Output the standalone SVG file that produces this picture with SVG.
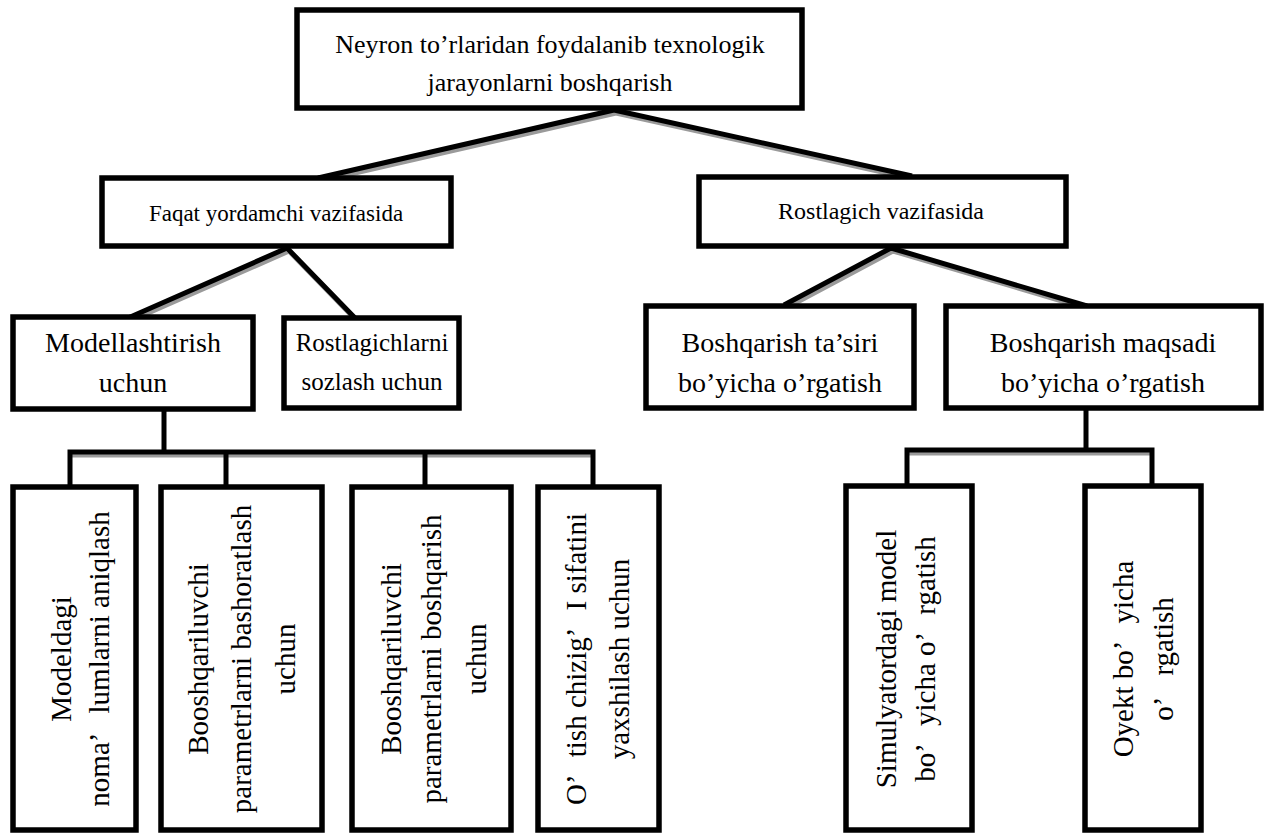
<svg xmlns="http://www.w3.org/2000/svg" width="1271" height="834" viewBox="0 0 1271 834">
  <style>
    .box { fill: #ffffff; stroke: #000000; stroke-width: 5.5; }
    .lbl { font-family: "Liberation Serif", "Times New Roman", serif; fill: #000000; text-anchor: middle; }
    .t1 { font-size: 26px; }
    .t2a { font-size: 23px; }
    .t2b { font-size: 24px; }
    .t3 { font-size: 28px; }
    .t3s { font-size: 25px; }
    .t4 { font-size: 29px; }
    .wire { fill: none; stroke: #000000; stroke-width: 5; stroke-linecap: butt; stroke-linejoin: miter; }
    .shade { fill: none; stroke: #9a9a9a; stroke-width: 5; }
  </style>

  <!-- connectors: grey shade first, black line on top -->
  <g id="connectors">
    <g class="shade" transform="translate(2,3)">
      <path d="M614,110 L318,178 M614,110 L912,176"/>
      <path d="M287,248 L128,318 M287,248 L355,318"/>
      <path d="M891,248 L784,305 M891,248 L1087,306"/>
      <path d="M70,452 L593,452"/>
      <path d="M907,450 L1152,450"/>
    </g>
    <path class="wire" d="M614,110 L318,178 M614,110 L912,176"/>
    <path class="wire" d="M287,248 L128,318 M287,248 L355,318"/>
    <path class="wire" d="M891,248 L784,305 M891,248 L1087,306"/>
    <path class="wire" d="M164,409 L164,452 M70,487 L70,452 L593,452 L593,487 M226,452 L226,487 M425,452 L425,487"/>
    <path class="wire" d="M1086,408 L1086,450 M907,487 L907,450 L1152,450 L1152,487"/>
  </g>

  <g id="root">
    <rect class="box" x="297" y="10" width="505" height="98"/>
    <text class="lbl t1" x="550" y="53">Neyron to’rlaridan foydalanib texnologik</text>
    <text class="lbl t1" x="550" y="91">jarayonlarni boshqarish</text>
  </g>

  <g id="yordamchi">
    <rect class="box" x="102" y="178" width="349" height="68"/>
    <text class="lbl t2a" x="276" y="221">Faqat yordamchi vazifasida</text>
  </g>

  <g id="rostlagich">
    <rect class="box" x="699" y="177" width="367" height="69"/>
    <text class="lbl t2b" x="881" y="219">Rostlagich vazifasida</text>
  </g>

  <g id="modellashtirish">
    <rect class="box" x="13" y="317" width="240" height="92"/>
    <text class="lbl t3" x="133" y="352">Modellashtirish</text>
    <text class="lbl t3" x="133" y="392">uchun</text>
  </g>

  <g id="sozlash">
    <rect class="box" x="284" y="318" width="175" height="90"/>
    <text class="lbl t3s" x="372" y="351">Rostlagichlarni</text>
    <text class="lbl t3s" x="372" y="390">sozlash uchun</text>
  </g>

  <g id="tasir">
    <rect class="box" x="646" y="306" width="268" height="102"/>
    <text class="lbl t3" x="780" y="352">Boshqarish ta’siri</text>
    <text class="lbl t3" x="780" y="392">bo’yicha o’rgatish</text>
  </g>

  <g id="maqsad">
    <rect class="box" x="946" y="306" width="315" height="102"/>
    <text class="lbl t3" x="1103" y="352">Boshqarish maqsadi</text>
    <text class="lbl t3" x="1103" y="392">bo’yicha o’rgatish</text>
  </g>

  <g id="noma-lumlar">
    <rect class="box" x="13" y="487" width="123" height="343"/>
    <g transform="translate(74.5,659) rotate(-90)">
      <text class="lbl t4" x="0" y="-4">Modeldagi</text>
      <text class="lbl t4" x="0" y="34">noma’<tspan dx="14"> lumlarni aniqlash</tspan></text>
    </g>
  </g>

  <g id="bashorat">
    <rect class="box" x="161" y="487" width="161" height="343"/>
    <g transform="translate(241.5,659) rotate(-90)">
      <text class="lbl t4" x="0" y="-34">Booshqariluvchi</text>
      <text class="lbl t4" x="0" y="9">parametrlarni bashoratlash</text>
      <text class="lbl t4" x="0" y="53">uchun</text>
    </g>
  </g>

  <g id="boshqarish-param">
    <rect class="box" x="352" y="487" width="159" height="343"/>
    <g transform="translate(431.5,659) rotate(-90)">
      <text class="lbl t4" x="0" y="-31">Booshqariluvchi</text>
      <text class="lbl t4" x="0" y="9">parametrlarni boshqarish</text>
      <text class="lbl t4" x="0" y="54">uchun</text>
    </g>
  </g>

  <g id="otish">
    <rect class="box" x="538" y="487" width="121" height="343"/>
    <g transform="translate(598.5,659) rotate(-90)">
      <text class="lbl t4" x="0" y="-13">O’<tspan dx="12"> tish chizig’</tspan><tspan dx="12"> I sifatini</tspan></text>
      <text class="lbl t4" x="0" y="30">yaxshilash uchun</text>
    </g>
  </g>

  <g id="simulyator">
    <rect class="box" x="846" y="486" width="126" height="344"/>
    <g transform="translate(909,659) rotate(-90)">
      <text class="lbl t4" x="0" y="-13">Simulyatordagi model</text>
      <text class="lbl t4" x="0" y="26">bo’<tspan dx="12"> yicha o’</tspan><tspan dx="12"> rgatish</tspan></text>
    </g>
  </g>

  <g id="obyekt">
    <rect class="box" x="1085" y="486" width="116" height="344"/>
    <g transform="translate(1143,659) rotate(-90)">
      <text class="lbl t4" x="0" y="-10">Oyekt bo’<tspan dx="12"> yicha</tspan></text>
      <text class="lbl t4" x="0" y="30">o’<tspan dx="16"> rgatish</tspan></text>
    </g>
  </g>
</svg>
